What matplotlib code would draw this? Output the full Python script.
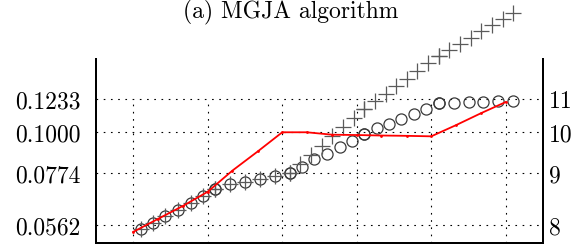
import matplotlib
matplotlib.use("Agg")
import matplotlib.pyplot as plt
from matplotlib.ticker import NullLocator

plt.rcParams["font.family"] = ["cmr10", "DejaVu Serif"]
plt.rcParams["axes.formatter.use_mathtext"] = True

# circles (duplicate points at segment joins)
circ_x = [1.1, 1.27, 1.43, 1.6, 1.77, 1.93, 2.1,
          2.1, 2.3, 2.5, 2.7, 2.9, 3.1,
          3.1, 3.27, 3.43, 3.6, 3.77, 3.93, 4.1,
          4.1, 4.27, 4.43, 4.6, 4.77, 4.93, 5.1,
          5.1, 5.3, 5.5, 5.7, 5.9, 6.1]
circ_y = [0.0547, 0.0569, 0.0593, 0.0616, 0.0644, 0.0673, 0.0703,
          0.0703, 0.0724, 0.0733, 0.0747, 0.0760, 0.0776,
          0.0776, 0.0806, 0.0844, 0.0871, 0.0912, 0.0947, 0.0992,
          0.0992, 0.1024, 0.1056, 0.1085, 0.1122, 0.1156, 0.1198,
          0.1198, 0.1200, 0.1205, 0.1208, 0.1213, 0.1218]

# crosses
cross_x = [1.1, 1.27, 1.43, 1.6, 1.77, 1.93, 2.1,
           2.1, 2.3, 2.5, 2.7, 2.9, 3.1,
           3.1, 3.24, 3.39, 3.53, 3.67, 3.81, 3.96, 4.1,
           4.1, 4.24, 4.39, 4.53, 4.67, 4.81, 4.96, 5.1,
           5.1, 5.24, 5.39, 5.53, 5.67, 5.81, 5.96, 6.1]
cross_y = [0.0547, 0.0569, 0.0593, 0.0616, 0.0644, 0.0673, 0.0703,
           0.0703, 0.0724, 0.0733, 0.0747, 0.0760, 0.0776,
           0.0776, 0.0821, 0.0870, 0.0920, 0.0975, 0.1031, 0.1092, 0.1156,
           0.1156, 0.1212, 0.1271, 0.1333, 0.1398, 0.1467, 0.1538, 0.1613,
           0.1613, 0.1675, 0.1739, 0.1806, 0.1876, 0.1948, 0.2023, 0.2101]

# red line
red_x = [1, 1.33, 1.67, 2, 2.33, 2.67, 3, 3.33, 3.67, 4, 4.33, 4.67, 5, 5.33, 5.67, 6]
red_y = [0.0537, 0.0582, 0.0632, 0.0690, 0.0787, 0.0887, 0.1000, 0.1000,
         0.0985, 0.0983, 0.0980, 0.0978, 0.0975, 0.1045, 0.1127, 0.1208]

x_grid = [1, 2, 3, 4, 5, 6]
y_ticks = [0.0562, 0.0774, 0.1000, 0.1233]
y_labels = ["0.0562", "0.0774", "0.1000", "0.1233"]
r_labels = ["8", "9", "10", "11"]

fig = plt.figure(figsize=(5.74, 2.51), dpi=100)
ax = fig.add_axes([96 / 574, 7 / 251, 447 / 574, 184 / 251])

ax.set_yscale("log")
ax.set_xlim(0.5, 6.5)
ax.set_ylim(0.0501, 0.158)

dots = dict(color="black", linewidth=0.8, linestyle=(0, (1.5, 5)))
ax.hlines(y_ticks, 0.5, 6.5, zorder=1, **dots)
ax.vlines(x_grid, 0.0501, y_ticks[-1], zorder=1, **dots)

ax.plot(circ_x, circ_y, linestyle="none", marker="o", markersize=8,
        markerfacecolor="none", markeredgecolor="#3a3a3a", markeredgewidth=0.9,
        clip_on=False, zorder=3)
ax.plot(cross_x, cross_y, linestyle="none", marker="+", markersize=11,
        color="#5a5a5a", markeredgewidth=0.9, clip_on=False, zorder=4)
ax.plot(red_x, red_y, color="red", linewidth=1.3, marker=".", markersize=2,
        zorder=5)

ax.set_xticks([])
ax.set_yticks(y_ticks)
ax.set_yticklabels(y_labels)
ax.yaxis.set_minor_locator(NullLocator())
ax.tick_params(axis="y", length=0, pad=11, labelsize=17)

ax2 = ax.twinx()
ax2.set_yscale("log")
ax2.set_ylim(ax.get_ylim())
ax2.set_yticks(y_ticks)
ax2.set_yticklabels(r_labels)
ax2.yaxis.set_minor_locator(NullLocator())
ax2.tick_params(axis="y", length=0, pad=4, labelsize=17)

for a in (ax, ax2):
    a.spines["top"].set_visible(False)
    for s in ("left", "right", "bottom"):
        a.spines[s].set_linewidth(1.4)

fig.text(0.507, 1 - 18 / 251, "(a) MGJA algorithm", ha="center",
         va="baseline", fontsize=17)

fig.savefig("out.png", dpi=100)
